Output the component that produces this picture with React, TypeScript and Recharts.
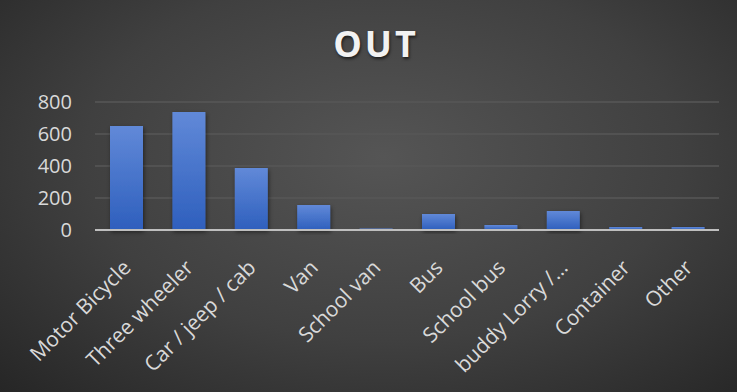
import { BarChart, Bar, XAxis, YAxis, CartesianGrid } from 'recharts'

const categories = ['Motor Bicycle', 'Three wheeler', 'Car / jeep / cab', 'Van', 'School van', 'Bus', 'School bus', 'buddy Lorry /…', 'Container', 'Other']
const outValues = [650, 737, 387, 156, 10, 100, 31, 119, 19, 19]
const yTicks = [0, 200, 400, 600, 800]

const data = categories.map((name, i) => ({ name, out: outValues[i] }))

const FONT = '"Open Sans", "Noto Sans", sans-serif'

function XTick({ x, y, payload }: any) {
  const ax = x + 6
  const ay = y + 39
  return (
    <text
      x={ax}
      y={ay}
      textAnchor="end"
      fill="#d9d9d9"
      fontSize={21}
      fontFamily={FONT}
      transform={`rotate(-45, ${ax}, ${ay})`}
    >
      {payload.value}
    </text>
  )
}

export default function App() {
  return (
    <div
      style={{
        position: 'absolute',
        left: 0,
        top: 0,
        width: 737,
        height: 392,
        background: 'radial-gradient(ellipse at 52% 40%, #555555 0%, #404040 55%, #262626 100%)',
        fontFamily: FONT,
      }}
    >
      <div
        style={{
          position: 'absolute',
          top: 19,
          left: 0,
          width: 752,
          textAlign: 'center',
          color: '#f2f2f2',
          fontSize: 36,
          fontWeight: 700,
          letterSpacing: 3,
          textShadow: '1px 2px 3px rgba(0,0,0,0.6)',
        }}
      >
        OUT
      </div>
      <BarChart
        width={737}
        height={392}
        data={data}
        margin={{ top: 102, right: 18, bottom: 0, left: 0 }}
        barSize={33}
        style={{ position: 'absolute', left: 0, top: 0 }}
      >
        <defs>
          <linearGradient id="barFill" x1="0" y1="0" x2="0" y2="1">
            <stop offset="0%" stopColor="#6189d8" />
            <stop offset="100%" stopColor="#2e5fbd" />
          </linearGradient>
          <filter id="barShadow" x="-20%" y="-20%" width="140%" height="140%">
            <feDropShadow dx="1" dy="2" stdDeviation="2" floodColor="#000" floodOpacity="0.5" />
          </filter>
        </defs>
        <CartesianGrid vertical={false} stroke="#575757" strokeWidth={1.5} />
        <YAxis
          domain={[0, 800]}
          ticks={yTicks}
          width={95}
          axisLine={false}
          tickLine={false}
          tickSize={0}
          tickMargin={23}
          tick={{ fill: '#d9d9d9', fontSize: 20, fontFamily: FONT }}
        />
        <XAxis
          dataKey="name"
          interval={0}
          height={162}
          axisLine={{ stroke: '#bfbfbf', strokeWidth: 2 }}
          tickLine={false}
          tickSize={0}
          tickMargin={0}
          tick={<XTick />}
        />
        <Bar dataKey="out" fill="url(#barFill)" filter="url(#barShadow)" isAnimationActive={false} />
      </BarChart>
    </div>
  )
}
